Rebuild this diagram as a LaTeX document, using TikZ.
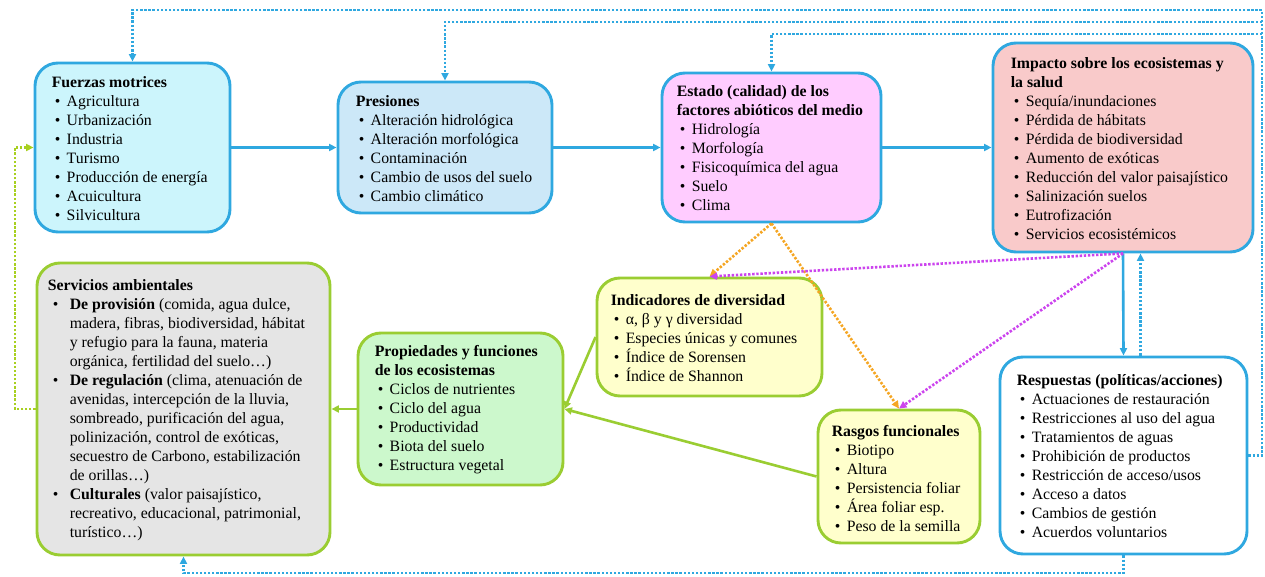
\documentclass[tikz,border=0pt]{standalone}
\usepackage{fontspec}
\setmainfont{Liberation Serif}
\usetikzlibrary{arrows.meta}
\definecolor{bord}{HTML}{2FA8E0}
\definecolor{gbord}{HTML}{9ACD32}
\definecolor{cFue}{HTML}{CCF5FC}
\definecolor{cPre}{HTML}{CCE8F8}
\definecolor{cEst}{HTML}{FFCCFF}
\definecolor{cImp}{HTML}{F9CACA}
\definecolor{cSer}{HTML}{E5E5E5}
\definecolor{cPro}{HTML}{CCF8CC}
\definecolor{cInd}{HTML}{FFFFCC}
\definecolor{cOra}{HTML}{F5A623}
\definecolor{cMag}{HTML}{CC44EE}
\definecolor{cLim}{HTML}{A8D020}
\newcommand{\bitem}[1]{\makebox[15pt][l]{\hspace{3pt}\textbullet}#1}
\newcommand{\sitem}[1]{\makebox[22pt][l]{\hspace{5pt}\textbullet}#1}
\newcommand{\cont}{\hspace*{22pt}}
\begin{document}
\begin{tikzpicture}[x=1pt,y=-1pt,
  bx/.style={rectangle, rounded corners=23pt, line width=2.9pt, inner sep=0pt},
  bluebox/.style={bx, draw=bord},
  greenbox/.style={bx, draw=gbord},
  txt/.style={anchor=west, align=left, inner sep=0pt, font=\fontsize{15.8}{19}\selectfont},
  tip/.style={-{Triangle[length=7.5pt,width=7pt]}},
  conn/.style={tip, line width=2.6pt, draw=bord},
  gconn/.style={tip, line width=2.6pt, draw=gbord},
  dots/.style={line width=2.6pt, dash pattern=on 2.4pt off 1.7pt},
  fb/.style={dots, draw=bord},
]
\useasboundingbox (0,0) rectangle (1265,577);
\fill[white] (0,0) rectangle (1265,577);

% boxes
\node[bluebox, fill=cFue, minimum width=195pt, minimum height=169pt] (fuerzas) at (132.5,147.5) {};
\node[bluebox, fill=cPre, minimum width=214pt, minimum height=131pt] (presiones) at (445,147.5) {};
\node[bluebox, fill=cEst, minimum width=219pt, minimum height=149pt] (estado) at (771.5,147.5) {};
\node[bluebox, fill=cImp, minimum width=260pt, minimum height=209pt] (impacto) at (1123,147.5) {};
\node[greenbox, fill=cSer, minimum width=293pt, minimum height=292pt] (servicios) at (183.5,409) {};
\node[greenbox, fill=cPro, minimum width=205pt, minimum height=152pt] (propiedades) at (460.5,409) {};
\node[greenbox, fill=cInd, minimum width=225pt, minimum height=118pt] (indicadores) at (709.5,337) {};
\node[greenbox, fill=cInd, minimum width=162pt, minimum height=133pt] (rasgos) at (899,476.5) {};
\node[bluebox, fill=white, minimum width=247pt, minimum height=197pt] (respuestas) at (1123.5,455.5) {};

% texts
\node[txt] (fuerzasT) at ([xshift=18pt,yshift=-1pt]fuerzas.west) {\textbf{Fuerzas motrices}\\
\bitem{Agricultura}\\ \bitem{Urbanización}\\ \bitem{Industria}\\ \bitem{Turismo}\\
\bitem{Producción de energía}\\ \bitem{Acuicultura}\\ \bitem{Silvicultura}};
\node[txt] (presionesT) at ([xshift=19pt,yshift=-1pt]presiones.west) {\textbf{Presiones}\\
\bitem{Alteración hidrológica}\\ \bitem{Alteración morfológica}\\ \bitem{Contaminación}\\
\bitem{Cambio de usos del suelo}\\ \bitem{Cambio climático}};
\node[txt] (estadoT) at ([xshift=16pt,yshift=-1pt]estado.west) {\textbf{Estado (calidad) de los}\\
\textbf{factores abióticos del medio}\\
\bitem{Hidrología}\\ \bitem{Morfología}\\ \bitem{Fisicoquímica del agua}\\ \bitem{Suelo}\\ \bitem{Clima}};
\node[txt] (impactoT) at ([xshift=19pt,yshift=-1pt]impacto.west) {\textbf{Impacto sobre los ecosistemas y}\\
\textbf{la salud}\\
\bitem{Sequía/inundaciones}\\ \bitem{Pérdida de hábitats}\\ \bitem{Pérdida de biodiversidad}\\
\bitem{Aumento de exóticas}\\ \bitem{Reducción del valor paisajístico}\\ \bitem{Salinización suelos}\\
\bitem{Eutrofización}\\ \bitem{Servicios ecosistémicos}};
\node[txt] (serviciosT) at ([xshift=12pt,yshift=-1pt]servicios.west) {\textbf{Servicios ambientales}\\
\sitem{\textbf{De provisión} (comida, agua dulce,}\\
\cont madera, fibras, biodiversidad, hábitat\\
\cont y refugio para la fauna, materia\\
\cont orgánica, fertilidad del suelo…)\\
\sitem{\textbf{De regulación} (clima, atenuación de}\\
\cont avenidas, intercepción de la lluvia,\\
\cont sombreado, purificación del agua,\\
\cont polinización, control de exóticas,\\
\cont secuestro de Carbono, estabilización\\
\cont de orillas…)\\
\sitem{\textbf{Culturales} (valor paisajístico,}\\
\cont recreativo, educacional, patrimonial,\\
\cont turístico…)};
\node[txt] (propiedadesT) at ([xshift=18pt,yshift=-1pt]propiedades.west) {\textbf{Propiedades y funciones}\\
\textbf{de los ecosistemas}\\
\bitem{Ciclos de nutrientes}\\ \bitem{Ciclo del agua}\\ \bitem{Productividad}\\
\bitem{Biota del suelo}\\ \bitem{Estructura vegetal}};
\node[txt] (indicadoresT) at ([xshift=15pt,yshift=-1pt]indicadores.west) {\textbf{Indicadores de diversidad}\\
\bitem{α, β y γ diversidad}\\ \bitem{Especies únicas y comunes}\\
\bitem{Índice de Sorensen}\\ \bitem{Índice de Shannon}};
\node[txt] (rasgosT) at ([xshift=15pt,yshift=-2pt]rasgos.west) {\textbf{Rasgos funcionales}\\
\bitem{Biotipo}\\ \bitem{Altura}\\ \bitem{Persistencia foliar}\\ \bitem{Área foliar esp.}\\
\bitem{Peso de la semilla}};
\node[txt] (respuestasT) at ([xshift=18pt,yshift=-1pt]respuestas.west) {\textbf{Respuestas (políticas/acciones)}\\
\bitem{Actuaciones de restauración}\\ \bitem{Restricciones al uso del agua}\\
\bitem{Tratamientos de aguas}\\ \bitem{Prohibición de productos}\\
\bitem{Restricción de acceso/usos}\\ \bitem{Acceso a datos}\\
\bitem{Cambios de gestión}\\ \bitem{Acuerdos voluntarios}};

% solid connectors
\draw[conn] (fuerzas) -- (presiones);
\draw[conn] (presiones) -- (estado);
\draw[conn] (estado) -- (impacto);
\draw[conn] (impacto.south) -- (respuestas.north);
\draw[fb,tip] ([xshift=17pt]respuestas.north) -- ([xshift=17pt]respuestas.north |- impacto.south);
\draw[gconn] (indicadores.west) -- (propiedades.east);
\draw[gconn] (rasgos.west) -- (propiedades.east);
\draw[gconn] (propiedades.west) -- (servicios.east);

% dotted links
\draw[dots, draw=cOra, tip] (estado.south) -- (indicadores.north);
\draw[dots, draw=cOra, tip] (estado.south) -- (rasgos.north);
\draw[dots, draw=cMag, tip] (impacto.south) -- (indicadores.north);
\draw[dots, draw=cMag, tip] (impacto.south) -- (rasgos.north);

% feedback loops
\coordinate (rtop) at (1262,10);
\coordinate (j2) at (1262,22);
\coordinate (j3) at (1262,34);
\draw[fb,tip] (respuestas.east) -| (rtop) -| (fuerzas.north);
\draw[fb,tip] (j2) -| (presiones.north);
\draw[fb,tip] (j3) -| (estado.north);
\coordinate (bot) at (1123.5,573);
\draw[fb,tip] (respuestas.south) -- (bot) -| (servicios.south);
\coordinate (lft) at (15,409);
\draw[dots, draw=cLim, tip] (servicios.west) -- (lft) |- (fuerzas.west);
\end{tikzpicture}
\end{document}
